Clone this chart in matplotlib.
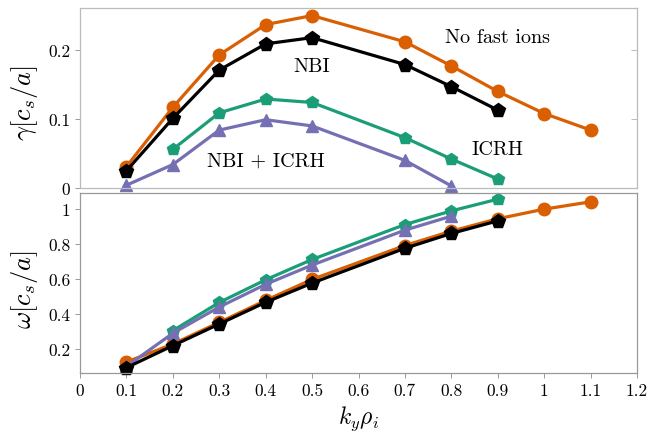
import matplotlib
matplotlib.use("Agg")
import matplotlib.pyplot as plt
from matplotlib.ticker import FuncFormatter

plt.rcParams["font.family"] = "serif"
plt.rcParams["font.serif"] = ["cmr10"]
plt.rcParams["mathtext.fontset"] = "cm"
plt.rcParams["axes.unicode_minus"] = False
plt.rcParams["axes.formatter.use_mathtext"] = True

# k_y rho_i values per case
k_nofast = [0.1, 0.2, 0.3, 0.4, 0.5, 0.7, 0.8, 0.9, 1.0, 1.1]
k_nbi = [0.1, 0.2, 0.3, 0.4, 0.5, 0.7, 0.8, 0.9]
k_icrh = [0.2, 0.3, 0.4, 0.5, 0.7, 0.8, 0.9]
k_both = [0.1, 0.2, 0.3, 0.4, 0.5, 0.7, 0.8]

# growth rates gamma [c_s/a]
gam_nofast = [0.031, 0.117, 0.193, 0.237, 0.250, 0.212, 0.177, 0.140, 0.108, 0.084]
gam_nbi = [0.025, 0.101, 0.171, 0.209, 0.218, 0.179, 0.147, 0.113]
gam_icrh = [0.056, 0.109, 0.129, 0.124, 0.073, 0.042, 0.013]
gam_both = [0.004, 0.034, 0.084, 0.099, 0.090, 0.040, 0.003]

# frequencies omega [c_s/a]
om_nofast = [0.125, 0.228, 0.352, 0.478, 0.598, 0.792, 0.874, 0.945, 1.0, 1.042]
om_nbi = [0.093, 0.219, 0.343, 0.467, 0.577, 0.776, 0.861, 0.933]
om_icrh = [0.305, 0.466, 0.596, 0.712, 0.912, 0.99, 1.057]
om_both = [0.10, 0.29, 0.44, 0.57, 0.68, 0.88, 0.96]

xticks = [0, 0.1, 0.2, 0.3, 0.4, 0.5, 0.6, 0.7, 0.8, 0.9, 1.0, 1.1, 1.2]

c_orange = "#d95f02"
c_green = "#1b9e77"
c_purple = "#7570b3"
c_black = "black"

fig = plt.figure(figsize=(6.49, 4.39), dpi=100)
ax1 = fig.add_axes([0.1233, 0.5695, 0.8582, 0.41])
ax2 = fig.add_axes([0.1233, 0.1475, 0.8582, 0.41])

fmt = FuncFormatter(lambda v, p: "%g" % round(v, 3))
lw = 2.3

for ax, data in [(ax1, (gam_nofast, gam_nbi, gam_icrh, gam_both)),
                 (ax2, (om_nofast, om_nbi, om_icrh, om_both))]:
    nofast, nbi, icrh, both = data
    ax.plot(k_nofast, nofast, "-o", color=c_orange, lw=lw, ms=9, clip_on=False)
    ax.plot(k_icrh, icrh, "-p", color=c_green, lw=lw, ms=9, clip_on=False)
    ax.plot(k_both, both, "-^", color=c_purple, lw=lw, ms=8, clip_on=False)
    ax.plot(k_nbi, nbi, "-p", color=c_black, lw=lw, ms=10, clip_on=False)
    ax.set_xlim(0, 1.2)
    for s in ax.spines.values():
        s.set_linewidth(0.9)
    ax.tick_params(colors="#999999", labelcolor="black", labelsize=12.5,
                   length=3.5, width=0.7)
    ax.yaxis.set_major_formatter(fmt)
    ax.xaxis.set_major_formatter(fmt)
    ax.set_xticks(xticks)

for s in ax1.spines.values():
    s.set_color("#bbbbbb")
for s in ax2.spines.values():
    s.set_color("#999999")

ax1.set_ylim(0, 0.261)
ax1.set_yticks([0, 0.1, 0.2])
ax1.tick_params(axis="x", bottom=False, labelbottom=False)
# inward ticks on the right side of the upper panel
sec = ax1.secondary_yaxis("right")
sec.set_yticks([0, 0.1, 0.2])
sec.tick_params(direction="in", length=4, width=0.7, colors="#bbbbbb",
                labelright=False)
sec.spines["right"].set_visible(False)
ax1.set_ylabel(r"$\gamma[c_s/a]$", fontsize=19)
ax1.yaxis.set_label_coords(-0.072, 0.48)
ax1.text(0.9, 0.219, "No fast ions", fontsize=14.5, ha="center", va="center")
ax1.text(0.5, 0.177, "NBI", fontsize=14.5, ha="center", va="center")
ax1.text(0.4, 0.039, "NBI + ICRH", fontsize=14.5, ha="center", va="center")
ax1.text(0.9, 0.057, "ICRH", fontsize=14.5, ha="center", va="center")

ax2.set_ylim(0.061, 1.091)
ax2.set_yticks([0.2, 0.4, 0.6, 0.8, 1.0])
ax2.set_ylabel(r"$\omega[c_s/a]$", fontsize=19)
ax2.yaxis.set_label_coords(-0.072, 0.47)
ax2.set_xlabel(r"$k_y\rho_i$", fontsize=17, labelpad=4)

fig.savefig("out.png", dpi=100)
